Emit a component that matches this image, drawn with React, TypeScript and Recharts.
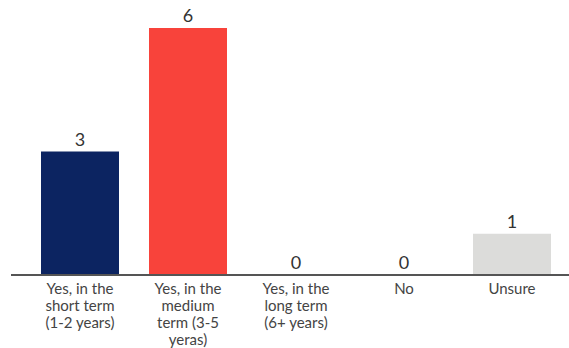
import { Bar, Cell, ComposedChart, LabelList, Line, XAxis, YAxis } from 'recharts'

const categories = ['short', 'medium', 'long', 'no', 'unsure']
const tickLabels = [
  ['Yes, in the', 'short term', '(1-2 years)'],
  ['Yes, in the', 'medium', 'term (3-5', 'yeras)'],
  ['Yes, in the', 'long term', '(6+ years)'],
  ['No'],
  ['Unsure'],
]
const counts = [3, 6, 0, 0, 1]
const colors = ['#0c2461', '#f8433b', '#0c2461', '#0c2461', '#dcdcda']

const data = categories.map((key, i) => ({ key, idx: i, total: counts[i] }))

const FONT = 'Lato, "Open Sans", sans-serif'

function WrappedTick(props: any) {
  const { x, y, payload } = props
  const lines = tickLabels[payload.index] || []
  return (
    <text x={x} y={y} textAnchor="middle" fill="#444" fontSize={15} fontFamily={FONT}>
      {lines.map((line, i) => (
        <tspan key={i} x={x} dy={i === 0 ? '0.71em' : 17}>
          {line}
        </tspan>
      ))}
    </text>
  )
}

export default function App() {
  return (
    <div style={{ position: 'fixed', left: 0, top: 0, background: '#fff' }}>
      <ComposedChart
        width={569}
        height={348}
        data={data}
        margin={{ top: 28, right: 0, bottom: 0, left: 11 }}
        barCategoryGap={15}
      >
        <XAxis
          dataKey="key"
          height={73}
          tickLine={false}
          axisLine={{ stroke: '#555', strokeWidth: 2 }}
          padding={{ left: 15, right: 3 }}
          interval={0}
          tick={<WrappedTick />}
        />
        <YAxis hide domain={[0, 6]} />
        <Bar dataKey="total" isAnimationActive={false}>
          {data.map((d) => (
            <Cell key={d.key} fill={colors[d.idx]} />
          ))}
        </Bar>
        <Line dataKey="total" stroke="none" dot={false} activeDot={false} isAnimationActive={false}>
          <LabelList dataKey="total" position="top" offset={6} fill="#333" fontSize={18} fontFamily={FONT} />
        </Line>
      </ComposedChart>
    </div>
  )
}
